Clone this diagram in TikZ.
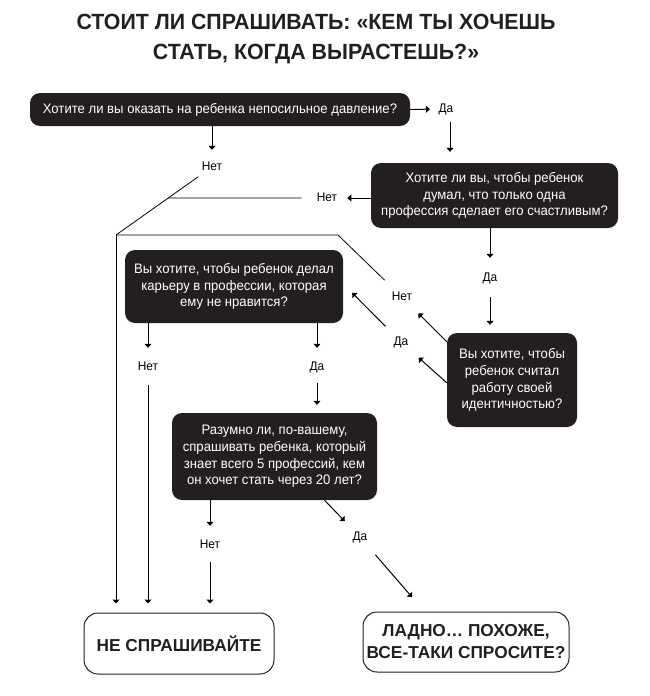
\documentclass[tikz,border=0pt]{standalone}
\usepackage{fontspec}
\setmainfont{Liberation Sans}
\newfontfamily\bodyfont{Liberation Sans}[FakeStretch=0.95]
\newfontfamily\headfont{Liberation Sans}[FakeStretch=0.97]
\usetikzlibrary{arrows.meta}

\definecolor{boxgray}{HTML}{231F20}

\tikzset{
  titletext/.style={align=center, inner sep=0pt, text=boxgray,
    font=\headfont\fontsize{22}{30}\selectfont\bfseries},
  question/.style={fill=boxgray, text=white, rounded corners=10pt,
    align=center, inner sep=0pt, font=\bodyfont\fontsize{13.8}{16.7}\selectfont},
  answer/.style={draw=boxgray, line width=1pt, rounded corners=14pt,
    align=center, inner sep=0pt, text=boxgray,
    font=\fontsize{17.3}{22}\selectfont\bfseries},
  lab/.style={inner sep=0pt, text height=9pt, text depth=2pt,
    font=\bodyfont\fontsize{12.5}{14}\selectfont},
  arr/.style={line width=1pt, -{Triangle[width=7pt,length=4pt]}},
  link/.style={line width=0.8pt}
}

\begin{document}
\begin{tikzpicture}[x=1pt,y=-1pt]
  \useasboundingbox (0,0) rectangle (649,696);

  \node[titletext] (title) at (316,39)
    {СТОИТ ЛИ СПРАШИВАТЬ: «КЕМ ТЫ ХОЧЕШЬ\\СТАТЬ, КОГДА ВЫРАСТЕШЬ?»};

  % questions
  \node[question, minimum width=380pt, minimum height=33pt] (q1) at (220,109.5)
    {Хотите ли вы оказать на ребенка непосильное давление?};
  \node[question, minimum width=247pt, minimum height=65pt] (q2) at (494.5,195.5)
    {Хотите ли вы, чтобы ребенок\\думал, что только одна\\профессия сделает его счастливым?};
  \node[question, minimum width=218pt, minimum height=73pt] (q3) at (234,286.5)
    {Вы хотите, чтобы ребенок делал\\карьеру в профессии, которая\\ему не нравится?};
  \node[question, minimum width=130pt, minimum height=94pt] (q4) at (512,380)
    {Вы хотите, чтобы\\ребенок считал\\работу своей\\идентичностью?};
  \node[question, minimum width=205pt, minimum height=87pt] (q5) at (274.5,456.5)
    {Разумно ли, по-вашему,\\спрашивать ребенка, который\\знает всего 5 профессий, кем\\он хочет стать через 20 лет?};

  % answers
  \node[answer, minimum width=190pt, minimum height=61pt] (dont) at (179,643.5)
    {НЕ СПРАШИВАЙТЕ};
  \node[answer, minimum width=206pt, minimum height=60pt] (ask) at (466,642)
    {ЛАДНО… ПОХОЖЕ,\\ВСЕ-ТАКИ СПРОСИТЕ?};

  % yes / no
  \node[lab] (da1) at (446,109) {Да};
  \node[lab] (net1) at (212,167) {Нет};
  \node[lab] (net2) at (327,198) {Нет};
  \node[lab] (da2) at (490,278) {Да};
  \node[lab] (net3) at (402,297) {Нет};
  \node[lab] (da3) at (401,342) {Да};
  \node[lab] (net4) at (148,367) {Нет};
  \node[lab] (da4) at (317,367) {Да};
  \node[lab] (net5) at (210,545) {Нет};
  \node[lab] (da5) at (360,537) {Да};

  \coordinate (c1) at (116,235);
  \coordinate (c2) at (338,235);
  \path ([xshift=4pt]da1.south) coordinate (d1s);
  \path (net2 -| c1) coordinate (h1);
  \path (intersection of net1--c1 and net2--h1) coordinate (j1);

  \draw[arr, shorten >=8.5pt] (q1.east) -- (da1.west);
  \draw[arr, shorten <=7pt, shorten >=11pt] (d1s) -- (d1s |- q2.north);
  \draw[arr, shorten >=11.5pt] (q1.south -| net1) -- (net1.north);
  \draw[link, shorten <=7pt] (net1) -- (c1);
  \draw[arr, shorten >=10pt] (q2.west |- net2) -- (net2.east);
  \draw[link, shorten <=15pt] (net2.west) -- (j1);

  \draw[arr, shorten >=14.5pt] (q2.south -| da2) -- (da2.north);
  \draw[arr, shorten <=13.5pt, shorten >=8pt] (da2.south) -- (da2.south |- q4.north);
  \draw[arr, shorten >=15pt] ([yshift=-9pt]q4.north west) -- (net3);
  \draw[arr, shorten >=15pt] ([yshift=-50pt]q4.north west) -- (da3);
  \draw[link, shorten <=16pt] (net3) -- (c2) -- (c1);
  \draw[arr, shorten >=9pt] (c1) -- (c1 |- dont.north);
  \draw[arr, shorten <=14pt, shorten >=12.7pt] (da3) -- ([yshift=-34pt]q3.north east);

  \draw[arr, shorten >=13.5pt] (q3.south -| net4) -- (net4.north);
  \draw[arr, shorten <=12.5pt, shorten >=9pt] (net4.south) -- (net4 |- dont.north);
  \draw[arr, shorten >=13.5pt] (q3.south -| da4) -- (da4.north);
  \draw[arr, shorten <=10.5pt, shorten >=8pt] (da4.south) -- (da4 |- q5.north);

  \draw[arr, shorten >=13.5pt] (q5.south -| net5) -- (net5.north);
  \draw[arr, shorten <=11.5pt, shorten >=9pt] (net5.south) -- (net5 |- dont.north);
  \draw[arr, shorten >=14pt] ([xshift=50pt]q5.south) -- (da5);
  \draw[arr, shorten <=16pt, shorten >=19pt] (da5) -- ([xshift=62pt]ask.north west);
\end{tikzpicture}
\end{document}
